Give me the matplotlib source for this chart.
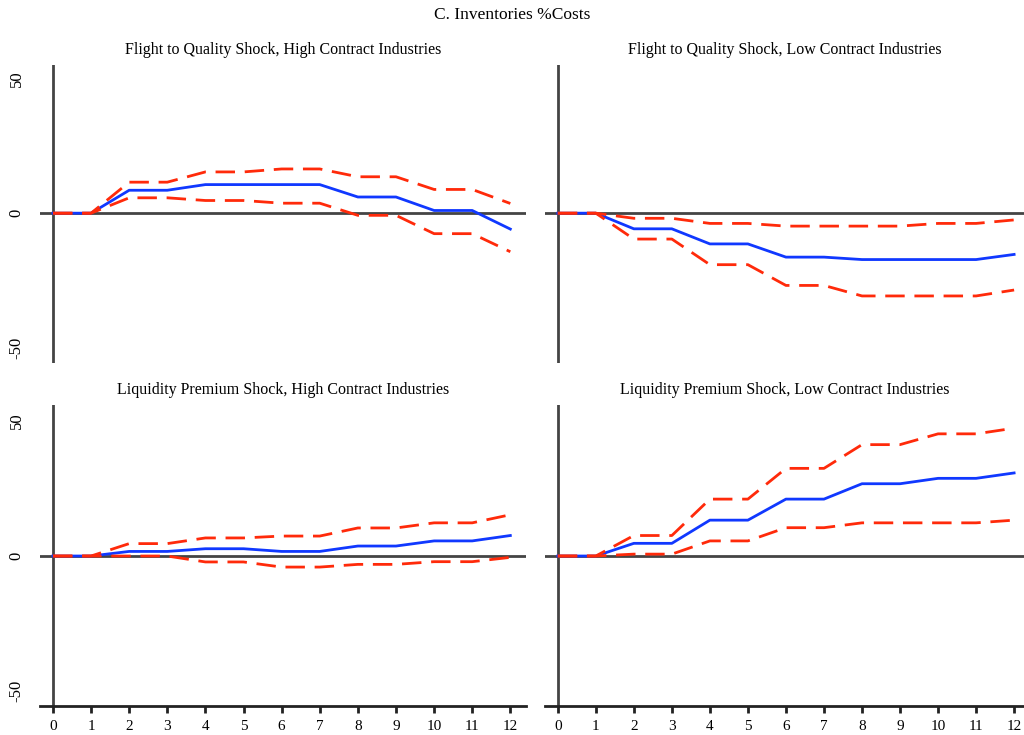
import matplotlib
matplotlib.use("Agg")
import matplotlib.pyplot as plt

plt.rcParams['font.family'] = ['Liberation Serif', 'DejaVu Serif']

# 반응 기간 (0~12)
steps = list(range(13))

# 패널 제목
titles = [
    "Flight to Quality Shock, High Contract Industries",
    "Flight to Quality Shock, Low Contract Industries",
    "Liquidity Premium Shock, High Contract Industries",
    "Liquidity Premium Shock, Low Contract Industries",
]

# 점추정치 (파란 실선)
fq_high_mid = [0, 0, 8.5, 8.5, 10.6, 10.6, 10.6, 10.6, 6.0, 6.0, 1.0, 1.0, -5.9]
fq_low_mid = [0, 0, -5.8, -5.8, -11.4, -11.4, -16.3, -16.3, -17.2, -17.2, -17.2, -17.2, -15.3]
lp_high_mid = [0, 0, 1.7, 1.7, 2.7, 2.7, 1.7, 1.7, 3.7, 3.7, 5.6, 5.6, 7.6]
lp_low_mid = [0, 0, 4.7, 4.7, 13.3, 13.3, 21.1, 21.1, 26.8, 26.8, 28.8, 28.8, 30.8]

# 신뢰구간 상한 (빨간 점선)
fq_high_up = [0, 0, 11.5, 11.5, 15.3, 15.3, 16.4, 16.4, 13.5, 13.5, 8.8, 8.8, 3.6]
fq_low_up = [0, 0, -1.9, -1.9, -3.8, -3.8, -4.8, -4.8, -4.8, -4.8, -3.8, -3.8, -2.5]
lp_high_up = [0, 0, 4.6, 4.6, 6.7, 6.7, 7.4, 7.4, 10.4, 10.4, 12.3, 12.3, 15.3]
lp_low_up = [0, 0, 7.6, 7.6, 21.1, 21.1, 32.5, 32.5, 41.3, 41.3, 45.3, 45.3, 47.4]

# 신뢰구간 하한
fq_high_lo = [0, 0, 5.7, 5.7, 4.7, 4.7, 3.7, 3.7, -0.8, -0.8, -7.6, -7.6, -14.3]
fq_low_lo = [0, 0, -9.6, -9.6, -19.1, -19.1, -26.8, -26.8, -30.7, -30.7, -30.7, -30.7, -28.5]
lp_high_lo = [0, 0, 0, 0, -2.2, -2.2, -4.1, -4.1, -3.1, -3.1, -2.1, -2.1, -0.5]
lp_low_lo = [0, 0, 0.7, 0.7, 5.6, 5.6, 10.5, 10.5, 12.3, 12.3, 12.3, 12.3, 13.3]

panels = [
    (fq_high_mid, fq_high_up, fq_high_lo),
    (fq_low_mid, fq_low_up, fq_low_lo),
    (lp_high_mid, lp_high_up, lp_high_lo),
    (lp_low_mid, lp_low_up, lp_low_lo),
]

yticks = [-50, 0, 50]
xticks = steps

BLUE = '#1038ff'
RED = '#ff2a0a'
AXIS = '#444444'

fig = plt.figure(figsize=(10.24, 7.35), dpi=100)

# 축 위치 (figure 비율)
rects = [
    [0.039, 0.506, 0.475, 0.405],
    [0.532, 0.506, 0.468, 0.405],
    [0.039, 0.0395, 0.475, 0.4095],
    [0.532, 0.0395, 0.468, 0.4095],
]
xlims = [(-0.341, 12.42), (-0.342, 12.26), (-0.341, 12.42), (-0.342, 12.26)]
ylims = [(-55.6, 54.8), (-55.6, 54.8), (-55.6, 56), (-55.6, 56)]

for i, (mid, up, lo) in enumerate(panels):
    ax = fig.add_axes(rects[i])
    ax.set_xlim(*xlims[i])
    ax.set_ylim(*ylims[i])
    for s in ax.spines.values():
        s.set_visible(False)

    ax.axhline(0, color=AXIS, lw=2, zorder=1)
    ax.axvline(0, color=AXIS, lw=2, zorder=1)

    ax.plot(steps, mid, color=BLUE, lw=2, zorder=3)
    ax.plot(steps, up, color=RED, lw=2, dashes=(7, 3.5), zorder=4)
    ax.plot(steps, lo, color=RED, lw=2, dashes=(7, 3.5), zorder=4)

    ax.set_title(titles[i], fontsize=11.5, pad=8)

    if i % 2 == 0:
        ax.set_yticks(yticks)
        ax.set_yticklabels([str(v) for v in yticks], rotation=90, va='center', fontsize=12)
        ax.tick_params(axis='y', length=0, pad=11)
    else:
        ax.set_yticks([])

    if i >= 2:
        ax.spines['bottom'].set_visible(True)
        ax.spines['bottom'].set_color('#222222')
        ax.spines['bottom'].set_linewidth(2)
        ax.set_xticks(xticks)
        ax.tick_params(axis='x', length=5, width=2, color='#222222', labelsize=11, pad=5)
    else:
        ax.set_xticks([])

fig.suptitle("C. Inventories %Costs", fontsize=12.5, y=0.99)

fig.savefig("out.png", dpi=100)
